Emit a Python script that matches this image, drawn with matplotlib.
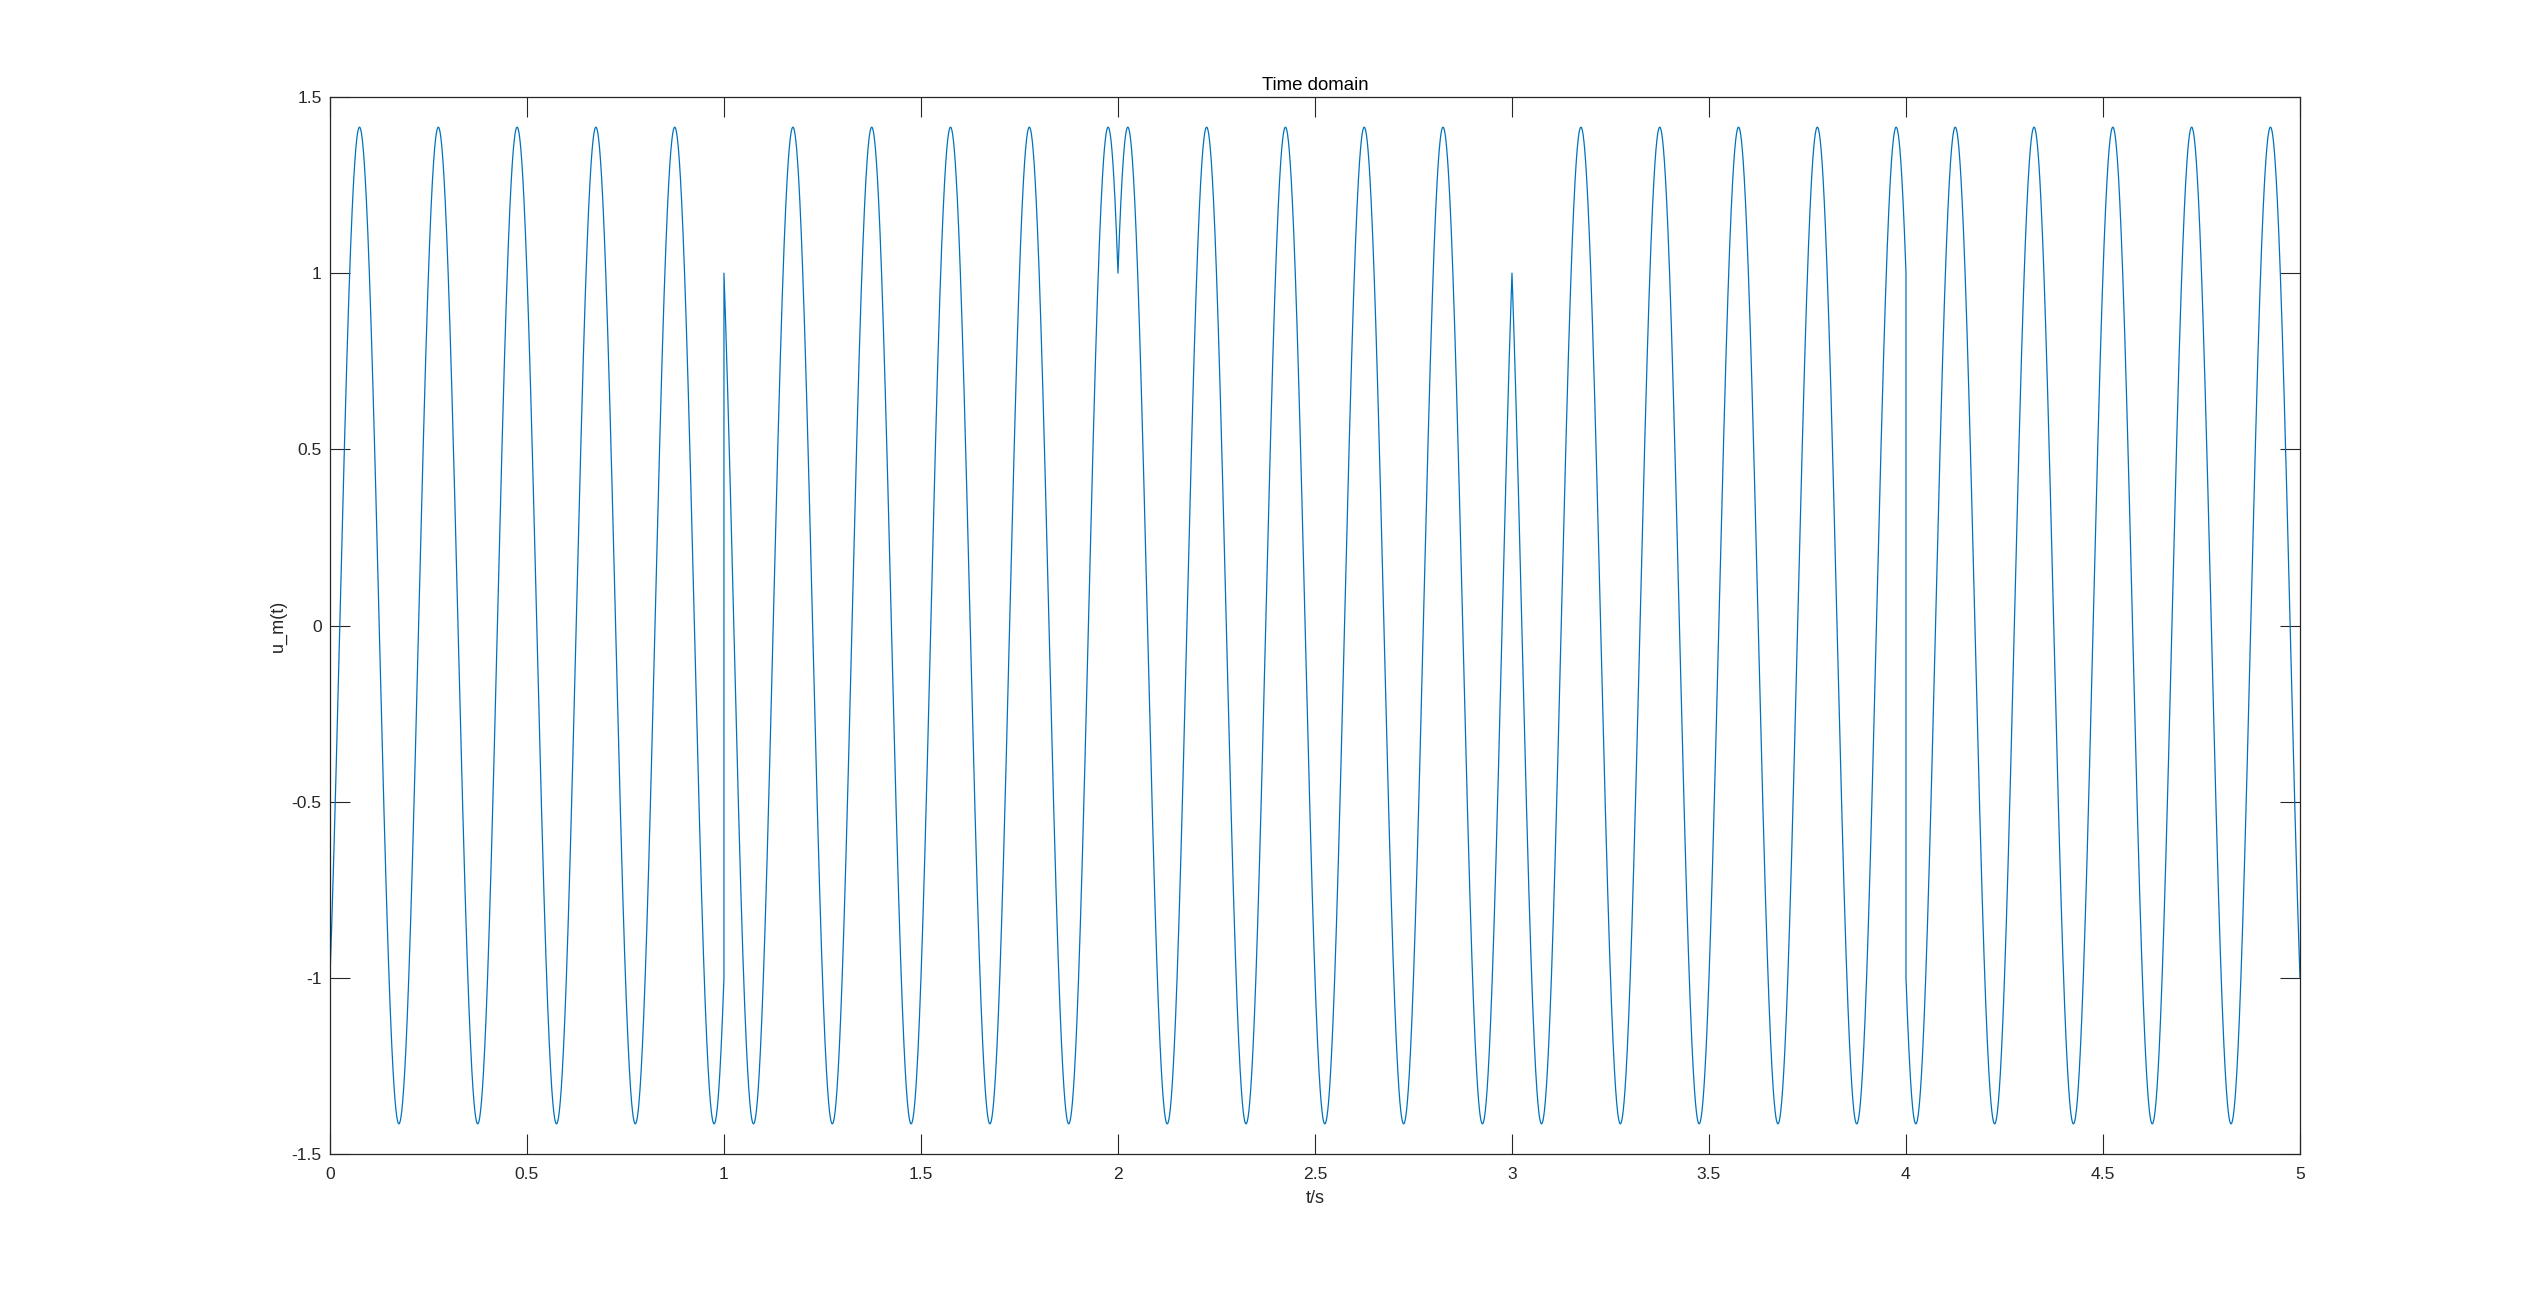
import numpy as np
import matplotlib
matplotlib.use('Agg')
import matplotlib.pyplot as plt

# QPSK symbols (one per second), read from the phase of each segment
sym_i = [-1, 1, 1, 1, -1]
sym_q = [1, -1, 1, -1, -1]
fc = 5          # carrier frequency, Hz
Ts = 1.0        # symbol duration, s

xticks = [0, 0.5, 1, 1.5, 2, 2.5, 3, 3.5, 4, 4.5, 5]
xticklabels = ['0', '0.5', '1', '1.5', '2', '2.5', '3', '3.5', '4', '4.5', '5']
yticks = [-1.5, -1, -0.5, 0, 0.5, 1, 1.5]
yticklabels = ['-1.5', '-1', '-0.5', '0', '0.5', '1', '1.5']

# build the modulated waveform segment by segment
t_all, u_all = [], []
for k in range(len(sym_i)):
    t = np.linspace(k * Ts, (k + 1) * Ts, 2001)
    u = sym_i[k] * np.cos(2 * np.pi * fc * t) + sym_q[k] * np.sin(2 * np.pi * fc * t)
    t_all.append(t)
    u_all.append(u)
t_all = np.concatenate(t_all)
u_all = np.concatenate(u_all)

plt.rcParams['font.family'] = ['Liberation Sans', 'DejaVu Sans']
axcol = '#262626'

fig = plt.figure(figsize=(12.71, 6.49), dpi=200)
ax = fig.add_axes([0.1298, 0.1109, 0.775, 0.8144])
ax.plot(t_all, u_all, color='#0072BD', linewidth=0.45)

ax.set_xlim(0, 5)
ax.set_ylim(-1.5, 1.5)
ax.set_xticks(xticks)
ax.set_xticklabels(xticklabels)
ax.set_yticks(yticks)
ax.set_yticklabels(yticklabels)
ax.tick_params(direction='in', length=7.1, width=0.4, colors=axcol,
               labelsize=6.3, top=True, right=True)
ax.tick_params(axis='x', pad=4.5)
ax.tick_params(axis='y', pad=3)
for s in ax.spines.values():
    s.set_color(axcol)
    s.set_linewidth(0.45)

ax.set_title('Time domain', fontsize=6.7, color='black', pad=2.5)
ax.set_xlabel('t/s', fontsize=6.5, color=axcol, labelpad=3.2)
ax.set_ylabel('u_m(t)', fontsize=6.5, color=axcol, labelpad=1.5)

fig.savefig('out.png', dpi=200, facecolor='white')
